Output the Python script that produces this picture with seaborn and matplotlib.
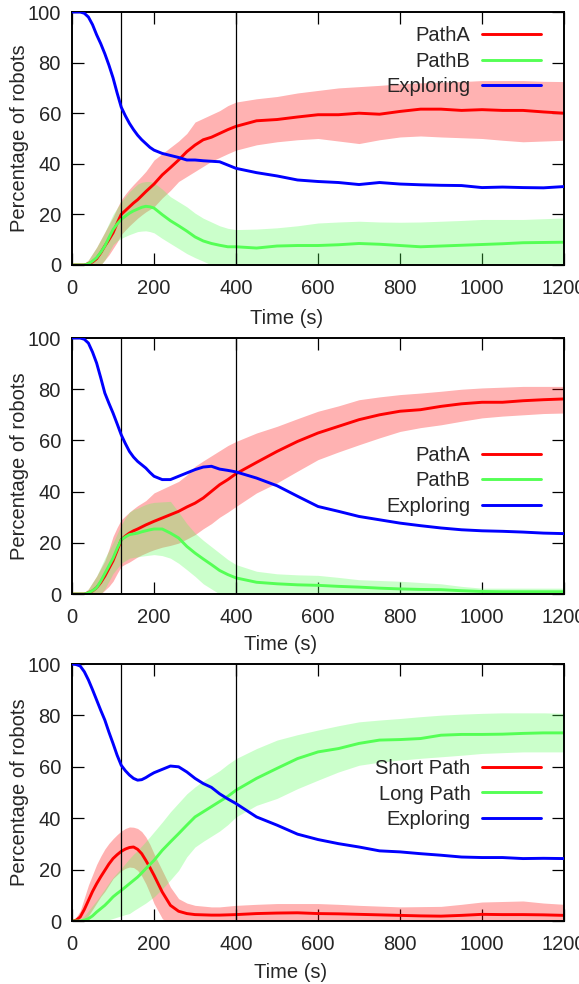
import numpy as np
import pandas as pd
import matplotlib
matplotlib.use("Agg")
import matplotlib.pyplot as plt
import seaborn as sns

# Sample times (s): dense during the start-up transient, coarser afterwards
time_s = ([0, 10, 20, 30, 40, 50, 60, 70, 80, 90, 100, 110, 120, 130, 140, 150, 160, 170, 180, 190, 200]
          + [220, 240, 260, 280, 300, 320, 340, 360, 380, 400]
          + [450, 500, 550, 600, 650, 700, 750, 800, 850, 900, 950, 1000, 1050, 1100, 1150, 1200])

# ---- Experiment 1 ----
p1_explore = [100, 100, 100, 99.5, 98, 95, 91, 87.5, 83.5, 79, 74, 68, 62.4, 59, 56, 53.5, 51.3, 49.5, 48, 46.5, 45.4,
              44.1, 43.3, 42.5, 41.5, 41.5, 41.2, 41, 40.8, 39.5, 38.2,
              36.5, 35.2, 33.6, 33, 32.6, 31.8, 32.6, 32, 31.7, 31.5, 31.4, 30.6, 30.8, 30.6, 30.5, 31]
p1_a_mean = [0, 0, 0, 0, 0.5, 1.2, 2.5, 4.8, 7.5, 10, 12.7, 16.5, 20, 21.5, 23, 24.5, 25.8, 27.4, 29, 30.5, 32,
             35.6, 38.5, 41.5, 44.8, 47.4, 49.5, 50.5, 52, 53.5, 54.8,
             57, 57.5, 58.5, 59.4, 59.4, 60, 59.6, 60.7, 61.6, 61.6, 61.1, 61.4, 61.1, 61.1, 60.5, 60]
p1_a_hi = [0, 0, 0, 0.5, 2, 4.5, 7, 10, 13, 16, 19, 22.5, 25.8, 28, 30, 31.8, 33.5, 35.2, 37, 39.2, 41.5,
           44, 46.5, 49, 52, 56.5, 58, 59.5, 61, 63, 64.4,
           65.7, 66.6, 68, 69, 70, 70.5, 71, 71.6, 72, 72.3, 72.5, 72.9, 72.9, 72.9, 72.6, 72.5]
p1_a_lo = [0, 0, 0, -0.5, -1, -1.5, -2, 0, 2, 4, 6.5, 9, 12, 13.8, 15.5, 17, 18.5, 19.8, 21, 22, 23,
           26.5, 29.5, 33, 35, 37, 39, 41, 42.5, 44, 45.4,
           47.5, 48.7, 49.5, 50, 49, 48, 49.5, 50.6, 51, 50.6, 50.3, 50, 49.3, 48.7, 49, 49.3]
p1_b_mean = [0, 0, 0, 0, 0.5, 1.5, 2.9, 5, 7.5, 10.8, 14, 16.2, 18, 19.3, 20.5, 21.4, 22.1, 22.8, 23.2, 23, 22.5,
             19.9, 17.5, 15.5, 13.4, 11.1, 9.5, 8.5, 7.8, 7.2, 7.2,
             6.7, 7.5, 7.7, 7.7, 8, 8.5, 8.2, 7.7, 7.2, 7.5, 7.8, 8.1, 8.4, 8.8, 8.9, 9]
p1_b_hi = [0, 0, 0, 0.5, 2, 4.5, 7, 10, 13, 16.5, 20, 22.5, 25, 27, 29, 30.5, 32, 32.7, 33, 33, 32.5,
           30, 27, 25, 23, 20.5, 18.5, 17, 15.5, 14.5, 14,
           14.2, 14.7, 15.5, 16.6, 17, 17.3, 17, 16.9, 17, 17.3, 17.6, 18, 18, 18, 18.3, 18.6]
p1_b_lo = [0, 0, 0, -0.5, -1, -1.5, -1.5, 0, 2, 5, 8, 9.5, 10.5, 11.3, 12, 12.6, 13.2, 13.4, 13.5, 13.2, 12.7,
           10.5, 8.5, 6.5, 4.5, 2.9, 1.5, 0, -1, -2, -2,
           -3, -2, -2, -2, -2, -1.5, -1.5, -2, -2, -2, -2, -2, -1.5, -1, -1, -1]

# ---- Experiment 2 ----
p2_explore = [100, 100, 100, 99.5, 98, 94.5, 90.2, 84.5, 78.5, 74.5, 70.7, 66.5, 62.2, 58.8, 55.7, 53.5, 51.8, 50.5, 49.2, 47.5, 46,
              44.7, 44.7, 46, 47.3, 48.6, 49.6, 49.9, 48.8, 48.3, 47.7,
              45.3, 42.3, 38.2, 34.2, 32.3, 30.3, 29, 27.7, 26.7, 25.8, 25.1, 24.7, 24.5, 24.2, 23.8, 23.6]
p2_a_mean = [0, 0, 0, 0, 0.5, 1.2, 2.5, 4.5, 7, 10, 13, 17, 21.2, 22.6, 23.8, 24.7, 25.4, 26.2, 27, 27.7, 28.4,
             29.7, 31, 32.3, 34, 35.5, 37.5, 40.1, 42.7, 44.7, 47,
             51.4, 55.7, 59.6, 62.9, 65.5, 68.1, 70, 71.4, 72, 73.3, 74.3, 74.9, 74.9, 75.5, 75.9, 76.2]
p2_a_hi = [0, 0, 0, 0.5, 2, 4.5, 7, 10, 13, 17.5, 22.5, 26, 29, 30.5, 32, 33.3, 34.5, 35.5, 36.5, 38, 39.5,
           41, 42.5, 44, 46.5, 49.9, 52, 54, 56, 58, 59.6,
           62.9, 65.5, 68.5, 71.4, 73.5, 75.9, 77, 77.9, 78.5, 79.2, 80, 80.5, 80.8, 81.1, 81.1, 81.1]
p2_a_lo = [0, 0, 0, -0.5, -1, -1.5, -2, 0, 1.5, 3, 5, 8, 10.8, 11.7, 12.5, 13.5, 14.5, 15.3, 16, 16.7, 17.3,
           18.3, 19, 19.9, 21.5, 23.2, 25.5, 27.5, 30, 32, 34.2,
           39.5, 43.4, 48, 52.5, 55.5, 58.3, 61, 63.5, 65, 66.1, 67.5, 68.8, 69.5, 70, 70.5, 70.7]
p2_b_mean = [0, 0, 0, 0, 0.5, 1.3, 2.5, 5, 8, 11, 14, 17.8, 21.2, 22.3, 23.2, 23.5, 23.8, 24.3, 24.7, 25.1, 25.4,
             25.4, 23.8, 21.9, 18.6, 16, 13.7, 11.5, 9.2, 7.6, 6.3,
             4.6, 4, 3.6, 3.4, 3, 2.7, 2.3, 2, 1.8, 1.7, 1.3, 1, 0.9, 0.9, 0.9, 0.9]
p2_b_hi = [0, 0, 0, 0.5, 2, 4.5, 7, 10.5, 14, 17, 20, 23.5, 27, 29.8, 32, 33, 33.5, 34.3, 35, 35.5, 35.8,
           36, 36.2, 32, 27.5, 23.8, 21, 18.5, 16, 13.5, 11.5,
           8.9, 7.9, 7.5, 7.3, 6.5, 5.6, 5.3, 5, 4.5, 4, 3, 2.3, 2.3, 2.3, 2.3, 2.3]
p2_b_lo = [0, 0, 0, -0.5, -1, -1.5, -2, 0, 2, 5, 8, 10, 12, 13, 14, 14.3, 14.5, 14.8, 15, 15.2, 15.4,
           15, 14, 12, 9.5, 6.9, 4, 2, 0, -1, -2,
           -2, -2, -2, -2, -2, -2, -2, -2, -2, -2, -2, -1, -1, -1, -1, -1]

# ---- Experiment 3 ----
p3_explore = [100, 99.8, 99.2, 97, 93.8, 90, 86, 82, 78.2, 73.5, 69.1, 64.5, 60.6, 58.5, 56.8, 55.5, 54.8, 55, 55.8, 56.8, 57.7,
              59, 60.3, 60, 58, 55.5, 53.5, 52, 49.5, 47.5, 45.7,
              40.5, 37.3, 33.8, 31.7, 30.1, 28.8, 27.3, 26.9, 26.2, 25.6, 24.9, 24.7, 24.7, 24.3, 24.4, 24.3]
p3_short_mean = [0, 0.3, 1.6, 4.5, 8, 11.5, 14.5, 17.2, 19.7, 22.2, 24.3, 25.8, 27.1, 28, 28.6, 28.8, 27.9, 26.2, 23.6, 20.8, 17.8,
                 11.3, 6.1, 3.8, 2.9, 2.5, 2.4, 2.3, 2.3, 2.4, 2.5,
                 2.9, 3.1, 3.2, 2.9, 2.8, 2.6, 2.4, 2.2, 2, 1.9, 2.2, 2.6, 2.5, 2.5, 2.4, 2.2]
p3_short_hi = [0, 1.5, 4, 9, 14, 18, 22, 25.2, 28, 30.2, 32, 33.6, 35, 36, 36.6, 36.5, 36, 34.8, 32.7, 29.8, 26.2,
               19.7, 13.2, 8.7, 7, 6.1, 5.8, 5.5, 5.5, 5.8, 6.1,
               6.5, 6.8, 6.8, 6.8, 6.5, 6.1, 5.8, 5.5, 5.6, 5.7, 6.5, 7.4, 7.6, 7.8, 7, 6.5]
p3_short_lo = [0, -0.5, -1, 0, 2, 4.5, 7, 9.5, 11.5, 14, 16.5, 18, 19.5, 20.5, 21, 20.8, 19.7, 17.5, 14.5, 10.8, 6.8,
               1, -2, -2, -2, -2, -2, -2, -2, -2, -2,
               -2, -2, -2, -2, -2, -2, -2, -2, -2, -2, -2, -2, -2, -2, -2, -2]
p3_long_mean = [0, 0, 0, 0.3, 0.9, 2, 3.5, 4.8, 6.1, 7.7, 9.4, 10.7, 11.9, 13.2, 14.5, 15.8, 17.1, 18.7, 20.4, 22, 23.6,
                27.5, 30.8, 34, 37.3, 40.5, 42.5, 44.5, 46.5, 48.5, 50.9,
                55.5, 59.4, 63.2, 65.8, 67.1, 69.1, 70.4, 70.6, 71, 72.3, 72.6, 72.6, 72.7, 73, 73.2, 73.2]
p3_long_hi = [0, 0.2, 0.5, 2, 4, 6, 8, 10.2, 12.5, 14.8, 17, 18.8, 20.5, 22.4, 24.3, 26, 27.5, 29.2, 31, 32.8, 34.7,
              38.5, 42.5, 46, 49.5, 52.2, 54.5, 56.5, 58.5, 61, 63.2,
              67.1, 70.4, 72.5, 74.3, 76, 77.5, 78.2, 78.8, 79.5, 80.1, 80.5, 80.8, 81, 81, 81, 80.8]
p3_long_lo = [0, -0.3, -0.5, -1.5, -2, -1.5, -1, -0.5, 0, 0.5, 1, 1.5, 2, 2.5, 2.9, 4, 5, 6, 7, 8.2, 9.4,
              12.5, 16, 19.7, 25, 28.8, 31, 33, 35, 37.5, 40.5,
              45, 47.7, 51.5, 54.8, 58, 60.6, 61.8, 62.6, 63.3, 63.9, 64.5, 65.2, 65.5, 65.8, 65.8, 65.8]

phase_marks = [120, 400]
x_ticks = [0, 200, 400, 600, 800, 1000, 1200]
y_ticks = [0, 20, 40, 60, 80, 100]

RED = "#ff0000"
GREEN = "#55ff55"
BLUE = "#0000ff"
FS = 14.5

sns.set_style("ticks")
plt.rcParams["font.family"] = ["Liberation Sans", "DejaVu Sans"]
plt.rcParams["font.size"] = FS

fig = plt.figure(figsize=(5.79, 9.84), dpi=100)

panels = [
    dict(rect=[0.1244, 0.7307, 0.8497, 0.2571],
         series=[("PathA", RED, p1_a_mean, p1_a_lo, p1_a_hi),
                 ("PathB", GREEN, p1_b_mean, p1_b_lo, p1_b_hi)],
         explore=p1_explore, leg_y=0.943, xlab=(0.437, -0.175)),
    dict(rect=[0.1244, 0.3963, 0.8497, 0.2602],
         series=[("PathA", RED, p2_a_mean, p2_a_lo, p2_a_hi),
                 ("PathB", GREEN, p2_b_mean, p2_b_lo, p2_b_hi)],
         explore=p2_explore, leg_y=0.578, xlab=(0.423, -0.16)),
    dict(rect=[0.1244, 0.0640, 0.8497, 0.2612],
         series=[("Short Path", RED, p3_short_mean, p3_short_lo, p3_short_hi),
                 ("Long Path", GREEN, p3_long_mean, p3_long_lo, p3_long_hi)],
         explore=p3_explore, leg_y=0.630, xlab=(0.445, -0.165)),
]

for p in panels:
    ax = fig.add_axes(p["rect"])
    handles = []
    for name, color, mean, lo, hi in p["series"]:
        ax.fill_between(time_s, lo, hi, color=color, alpha=0.3, linewidth=0, zorder=1)
        df = pd.DataFrame({"t": time_s, "v": mean})
        sns.lineplot(data=df, x="t", y="v", color=color, linewidth=2.1, ax=ax, zorder=1.2)
        handles.append((ax.lines[-1], name))
    df = pd.DataFrame({"t": time_s, "v": p["explore"]})
    sns.lineplot(data=df, x="t", y="v", color=BLUE, linewidth=2.1, ax=ax, zorder=3)
    handles.append((ax.lines[-1], "Exploring"))

    for xm in phase_marks:
        ax.axvline(xm, color="black", linewidth=0.9, zorder=2.5)

    ax.set_xlim(0, 1200)
    ax.set_ylim(0, 100)
    ax.set_xticks(x_ticks)
    ax.set_yticks(y_ticks)
    ax.tick_params(axis="both", direction="in", length=8.5, width=0.9,
                   top=True, right=True, labelsize=FS, color="black")
    ax.tick_params(axis="y", pad=8)
    ax.tick_params(axis="x", pad=10)
    for s in ax.spines.values():
        s.set_linewidth(1.4)
        s.set_color("black")
    ax.set_xlabel("Time (s)", fontsize=FS)
    ax.set_ylabel("Percentage of robots", fontsize=FS)
    ax.xaxis.set_label_coords(*p["xlab"])
    ax.yaxis.set_label_coords(-0.087, 0.5)

    ax.legend([h for h, _ in handles], [n for _, n in handles],
              loc="upper right", bbox_to_anchor=(0.953, p["leg_y"]),
              frameon=False, markerfirst=False, handlelength=2.9,
              handletextpad=0.6, labelspacing=0.32, borderpad=0,
              borderaxespad=0, fontsize=FS)

fig.savefig("out.png", dpi=100)
